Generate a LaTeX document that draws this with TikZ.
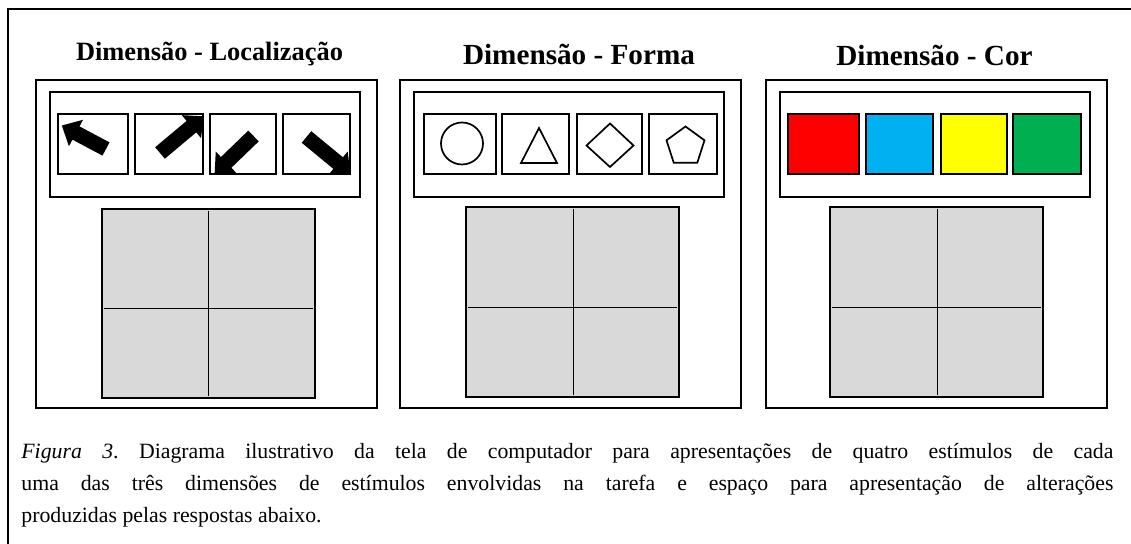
\documentclass[tikz,border=0pt]{standalone}
\usepackage{fontspec}
\setmainfont{Liberation Serif}
\usepackage{tikz}
\definecolor{telagray}{RGB}{217,217,217}
\definecolor{azul}{RGB}{0,176,240}
\definecolor{amarelo}{RGB}{255,255,0}
\definecolor{verde}{RGB}{0,176,80}
% block arrow: tail x, tail y, angle, length
\newcommand{\seta}[4]{%
  \fill[shift={(#1,#2)},rotate=#3] (0,-7.5) -- (#4-16,-7.5) -- (#4-16,-15) -- (#4,0)
        -- (#4-16,15) -- (#4-16,7.5) -- (0,7.5) -- cycle;}

\begin{document}
\begin{tikzpicture}[x=0.5pt,y=-0.5pt,
        moldura/.style={line width=1pt},
        caixa/.style={draw,line width=1.2pt},
        tela/.style={draw,line width=1.2pt,fill=telagray},
        divisa/.style={line width=0.5pt},
        forma/.style={draw,line width=0.85pt},
        titulo/.style={anchor=base,inner sep=0pt,font=\bfseries\fontsize{14.6}{16}\selectfont}]
                \useasboundingbox (0,0) rectangle (1131,544);
                \clip (0,0) rectangle (1131,544);
                % frame
                \draw[moldura] (8,560) -- (8,9.5) -- (1140,9.5);
                % titles
                \node[titulo,font=\bfseries\fontsize{13.2}{15}\selectfont] (tloc) at (209.5,61) {Dimensão - Localização};
                \node[titulo] (tforma) at (579,65) {Dimensão - Forma};
                \node[titulo] (tcor) at (934.5,66) {Dimensão - Cor};
                % localizacao
                \draw[caixa] (36,80) rectangle (377,408);
                \draw[caixa] (50,92) rectangle (360,197);
                \scope
                \clip (58,114) rectangle (128,174);
                \seta{106}{149}{152}{50}
                \endscope
                \scope
                \clip (135,114) rectangle (203,174);
                \seta{160}{153}{40}{57}
                \endscope
                \scope
                \clip (210,114) rectangle (276,174);
                \seta{253.5}{136}{224}{54}
                \endscope
                \scope
                \clip (283,114) rectangle (350,174);
                \seta{306.5}{137}{-39.5}{57}
                \endscope
                \draw[caixa] (58,114) rectangle (128,174) (135,114) rectangle (203,174)
                      (210,114) rectangle (276,174) (283,114) rectangle (350,174);
                \draw[tela] (102,209) rectangle (315,398);
                \draw[divisa] (208,211) -- (208,396) (104,309) -- (313,309);
                % forma
                \draw[caixa] (400,80) rectangle (741,408);
                \draw[caixa] (414,92) rectangle (724,197);
                \draw[caixa] (424,114) rectangle (496,174) (502,114) rectangle (569,174)
                      (577,114) rectangle (642,174) (649,114) rectangle (717,174);
                \draw[forma] (462,143.5) circle (21);
                \draw[forma] (539,128) -- (521,163) -- (557,163) -- cycle;
                \draw[forma] (586.5,145.5) -- (610,123.5) -- (633.5,145.5) -- (610,167) -- cycle;
                \draw[forma] (685.5,126.5) -- (704.5,140.3) -- (697.3,162.7) -- (673.7,162.7)
                      -- (666.5,140.3) -- cycle;
                \draw[tela] (466,207) rectangle (679,397);
                \draw[divisa] (573,209) -- (573,395) (468,308) -- (677,308);
                % cor
                \draw[caixa] (766,80) rectangle (1107,408);
                \draw[caixa] (780,92) rectangle (1090,197);
                \draw[caixa,fill=red] (788,114) rectangle (859,174);
                \draw[caixa,fill=azul] (866,114) rectangle (933,174);
                \draw[caixa,fill=amarelo] (941,114) rectangle (1007,174);
                \draw[caixa,fill=verde] (1013,114) rectangle (1081,174);
                \draw[tela] (830,207) rectangle (1043,397);
                \draw[divisa] (937,209) -- (937,395) (832,308) -- (1041,308);
                % caption
                \node[anchor=base west,inner sep=0pt,text width=546pt,align=justify,
                      font=\fontsize{10.9}{15.8}\selectfont\frenchspacing] (legenda) at (21,459)
                      {\textit{Figura 3}. Diagrama ilustrativo da tela de computador para apresentações de quatro estímulos de cada\linebreak
                       uma das três dimensões de estímulos envolvidas na tarefa e espaço para apresentação de alterações\linebreak
                       produzidas pelas respostas abaixo.};
                \end{tikzpicture}
\end{document}
